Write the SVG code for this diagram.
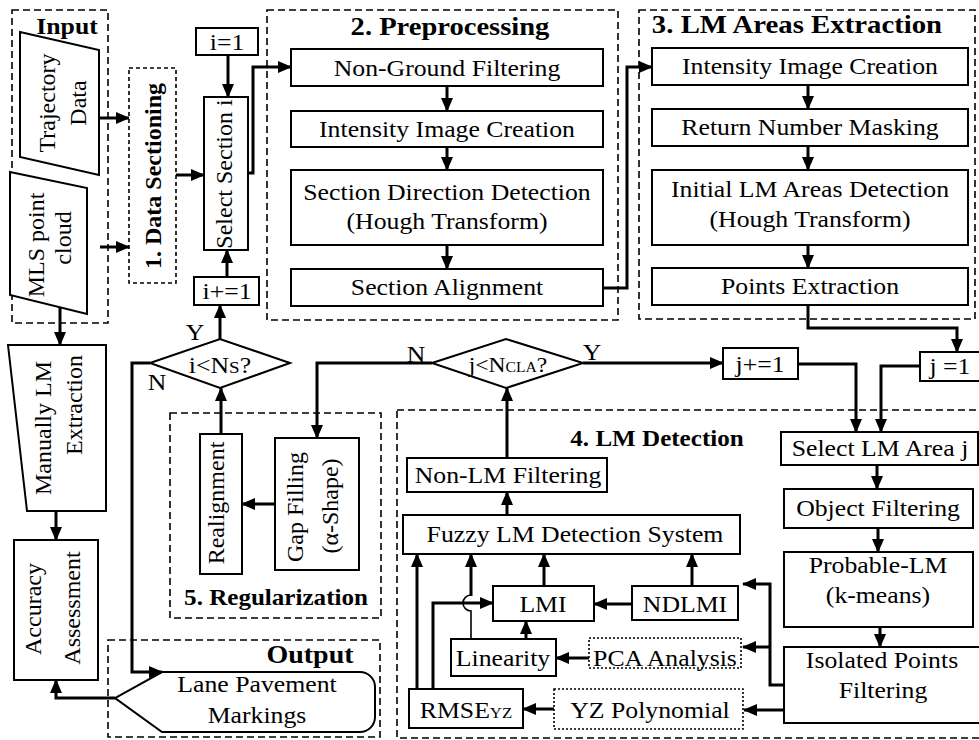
<svg xmlns="http://www.w3.org/2000/svg" width="979" height="740" viewBox="0 0 979 740">
<defs>
<marker id="a" markerWidth="14" markerHeight="12" refX="13" refY="6" orient="auto" markerUnits="userSpaceOnUse"><path d="M0,0 L14,6 L0,12 z" fill="#000"/></marker>
<style>
.b{fill:#fff;stroke:#000;stroke-width:2}
.dt{fill:#fff;stroke:#000;stroke-width:1.6;stroke-dasharray:2,2}
.d{fill:none;stroke:#000;stroke-width:1.6;stroke-dasharray:7,4}
.c{fill:none;stroke:#000;stroke-width:3;marker-end:url(#a)}
.l{fill:none;stroke:#000;stroke-width:3}
.t{font-family:"Liberation Serif","Times New Roman",serif;font-size:23px;text-anchor:middle;fill:#000}
.v{font-size:24px}
.h{font-weight:bold}
</style>
</defs>
<rect width="979" height="740" fill="#fff"/>
<g id="containers">
<rect class="d" x="12" y="10" width="96" height="313"/>
<rect class="d" x="267" y="10" width="351" height="310"/>
<rect class="d" x="639" y="10" width="336" height="309"/>
<rect class="d" x="397" y="410" width="600" height="328"/>
<rect class="d" x="170" y="413" width="211" height="205"/>
<rect class="d" x="108" y="640" width="272" height="97"/>
<text class="t h" font-size="24" transform="translate(67,34) scale(1.12,1)">Input</text>
<text class="t h" style="font-size:25.5px" transform="translate(450,35) scale(1.12,1)">2. Preprocessing</text>
<text class="t h" style="font-size:25.7px" transform="translate(797,33) scale(1.12,1)">3. LM Areas Extraction</text>
<text class="t h" style="font-size:22.4px" transform="translate(657,446) scale(1.12,1)">4. LM Detection</text>
<text class="t h" style="font-size:22.4px" transform="translate(276,605) scale(1.12,1)">5. Regularization</text>
<text class="t h" style="font-size:25px" transform="translate(310,663) scale(1.12,1)">Output</text>
</g>
<g id="connectors">
<path class="c" d="M99,118 H129"/>
<path class="c" d="M100,247 H129"/>
<path class="c" d="M176,175 H204"/>
<path class="c" d="M228,55 V97"/>
<path class="c" d="M248,173 H253 V67 H291"/>
<path class="c" d="M227,277 V250"/>
<path class="c" d="M220,339 V305"/>
<path class="c" d="M221,434 V388"/>
<path class="c" d="M150,363 H132 V672 H162"/>
<path class="c" d="M60,307 V345"/>
<path class="c" d="M56,511 V540"/>
<path class="c" d="M115,698 H56 V680"/>
<path class="c" d="M447,86 V111"/>
<path class="c" d="M447,147 V170"/>
<path class="c" d="M447,245 V269"/>
<path class="c" d="M603,288 H627 V67 H652"/>
<path class="c" d="M808,85 V109"/>
<path class="c" d="M808,146 V170"/>
<path class="c" d="M808,245 V268"/>
<path class="c" d="M808,305 V328 H957 V352"/>
<path class="c" d="M920,366 H881 V432"/>
<path class="c" d="M798,364 H856 V432"/>
<path class="c" d="M583,363 H723"/>
<path class="c" d="M432,363 H317 V438"/>
<path class="c" d="M275,504 H242"/>
<path class="c" d="M507,458 V388"/>
<path class="c" d="M507,515 V492"/>
<path class="c" d="M877,465 V489"/>
<path class="c" d="M878,528 V552"/>
<path class="c" d="M880,627 V647"/>
<path class="c" d="M784,685 H770 V584 H743"/>
<path class="c" d="M770,647 H743"/>
<path class="c" d="M784,710 H744"/>
<path class="c" d="M554,709 H523"/>
<path class="c" d="M589,658 H556"/>
<path class="c" d="M632,604 H594"/>
<path class="c" d="M544,586 V554"/>
<path class="c" d="M692,586 V554"/>
<path class="c" d="M526,639 V621"/>
<path class="c" d="M417,689 V554"/>
<path class="c" d="M433,689 V603 H493"/>
<path fill="none" stroke="#000" stroke-width="1.6" d="M471,639 V611 A8,8 0 0 1 471,595"/>
<path class="c" d="M471,596 V554"/>
<text class="t" transform="translate(195,340) scale(1.12,1)">Y</text>
<text class="t" transform="translate(157,390) scale(1.12,1)">N</text>
<text class="t" transform="translate(416,362) scale(1.12,1)">N</text>
<text class="t" transform="translate(592,360) scale(1.12,1)">Y</text>
</g>
<g id="trajectory">
<polygon class="b" points="20,32 99,50 99,175 20,157"/>
<text class="t v" transform="translate(55,103) rotate(-90)">Trajectory</text>
<text class="t v" transform="translate(86,103) rotate(-90)">Data</text>
</g>
<g id="mls">
<polygon class="b" points="10,172 87,188 87,314 10,295"/>
<text class="t v" transform="translate(44,245) rotate(-90)">MLS point</text>
<text class="t v" transform="translate(71,238) rotate(-90)">cloud</text>
</g>
<g id="datasectioning">
<rect x="129" y="68" width="47" height="215" fill="#fff" stroke="#000" stroke-width="1.6" stroke-dasharray="4,3"/>
<text class="t v h" transform="translate(161,176) rotate(-90)">1. Data Sectioning</text>
</g>
<g id="i1"><rect class="b" x="196" y="28" width="62" height="27"/><text class="t" transform="translate(227,50) scale(1.12,1)">i=1</text></g>
<g id="selectsection"><rect class="b" x="204" y="97" width="44" height="153"/><text class="t v" transform="translate(232,174) rotate(-90)">Select Section i</text></g>
<g id="iinc"><rect class="b" x="194" y="277" width="65" height="28"/><text class="t" transform="translate(227,299) scale(1.12,1)">i+=1</text></g>
<g id="idiamond"><polygon class="b" points="150,363 220,339 290,363 220,388"/><text class="t" transform="translate(220,373) scale(1.12,1)">i&lt;N<tspan font-size="17">S</tspan>?</text></g>
<g id="nonground"><rect class="b" x="291" y="49" width="312" height="37"/><text class="t" transform="translate(447,76) scale(1.12,1)">Non-Ground Filtering</text></g>
<g id="intensity1"><rect class="b" x="291" y="111" width="312" height="36"/><text class="t" transform="translate(447,137) scale(1.12,1)">Intensity Image Creation</text></g>
<g id="secdir"><rect class="b" x="291" y="170" width="312" height="75"/><text class="t" transform="translate(447,200) scale(1.12,1)">Section Direction Detection</text><text class="t" transform="translate(447,229) scale(1.12,1)">(Hough Transform)</text></g>
<g id="secalign"><rect class="b" x="291" y="269" width="312" height="37"/><text class="t" transform="translate(447,295) scale(1.12,1)">Section Alignment</text></g>
<g id="intensity2"><rect class="b" x="652" y="48" width="316" height="37"/><text class="t" transform="translate(810,74) scale(1.12,1)">Intensity Image Creation</text></g>
<g id="returnnum"><rect class="b" x="652" y="109" width="316" height="37"/><text class="t" transform="translate(810,135) scale(1.12,1)">Return Number Masking</text></g>
<g id="initlm"><rect class="b" x="652" y="170" width="316" height="75"/><text class="t" transform="translate(810,197) scale(1.12,1)">Initial LM Areas Detection</text><text class="t" transform="translate(810,227) scale(1.12,1)">(Hough Transform)</text></g>
<g id="pointsext"><rect class="b" x="652" y="268" width="316" height="37"/><text class="t" transform="translate(810,294) scale(1.12,1)">Points Extraction</text></g>
<g id="jdiamond"><polygon class="b" points="432,363 506,339 583,363 506,388"/><text class="t" style="font-size:21px" transform="translate(508,372) scale(1.12,1)">j&lt;N<tspan font-size="14">CLA</tspan>?</text></g>
<g id="jinc"><rect class="b" x="723" y="348" width="75" height="31"/><text class="t" transform="translate(760,372) scale(1.12,1)">j+=1</text></g>
<g id="j1"><rect class="b" x="920" y="352" width="65" height="29"/><text class="t" transform="translate(950,374) scale(1.12,1)">j =1</text></g>
<g id="selectlm"><rect class="b" x="781" y="432" width="197" height="33"/><text class="t" transform="translate(880,456) scale(1.12,1)">Select LM Area j</text></g>
<g id="objfilt"><rect class="b" x="784" y="489" width="189" height="39"/><text class="t" transform="translate(878,516) scale(1.12,1)">Object Filtering</text></g>
<g id="probable"><rect class="b" x="784" y="552" width="189" height="75"/><text class="t" transform="translate(878,573) scale(1.12,1)">Probable-LM</text><text class="t" transform="translate(878,603) scale(1.12,1)">(k-means)</text></g>
<g id="isolated"><rect class="b" x="784" y="647" width="200" height="76"/><text class="t" transform="translate(882,668) scale(1.12,1)">Isolated Points</text><text class="t" transform="translate(883,698) scale(1.12,1)">Filtering</text></g>
<g id="nonlm"><rect class="b" x="407" y="458" width="200" height="34"/><text class="t" transform="translate(508,483) scale(1.12,1)">Non-LM Filtering</text></g>
<g id="fuzzy"><rect class="b" x="403" y="515" width="337" height="39"/><text class="t" transform="translate(575,542) scale(1.12,1)">Fuzzy LM Detection System</text></g>
<g id="lmi"><rect class="b" x="493" y="586" width="101" height="35"/><text class="t" transform="translate(543,612) scale(1.12,1)">LMI</text></g>
<g id="ndlmi"><rect class="b" x="632" y="586" width="106" height="34"/><text class="t" transform="translate(685,612) scale(1.12,1)">NDLMI</text></g>
<g id="linearity"><rect class="b" x="451" y="639" width="105" height="37"/><text class="t" transform="translate(503,666) scale(1.12,1)">Linearity</text></g>
<g id="pca"><rect class="dt" x="589" y="638" width="152" height="30"/><text class="t" transform="translate(665,666) scale(1.12,1)">PCA Analysis</text></g>
<g id="rmse"><rect class="b" x="409" y="689" width="114" height="39"/><text class="t" transform="translate(466,718) scale(1.12,1)">RMSE<tspan font-size="15">YZ</tspan></text></g>
<g id="yzpoly"><rect class="dt" x="554" y="689" width="189" height="40"/><text class="t" transform="translate(650,718) scale(1.12,1)">YZ Polynomial</text></g>
<g id="realign"><rect class="b" x="200" y="434" width="42" height="140"/><text class="t v" transform="translate(224,503) rotate(-90)">Realignment</text></g>
<g id="gapfill"><rect class="b" x="275" y="438" width="84" height="132"/><text class="t v" transform="translate(303,507) rotate(-90)">Gap Filling</text><text class="t v" transform="translate(338,506) rotate(-90)">(α-Shape)</text></g>
<g id="manual"><polygon class="b" points="8,345 106,345 106,511 27,511"/><text class="t v" transform="translate(51,428) rotate(-90)">Manually LM</text><text class="t v" transform="translate(82,405) rotate(-90)">Extraction</text></g>
<g id="accuracy"><rect class="b" x="14" y="540" width="84" height="140"/><text class="t v" transform="translate(41,609) rotate(-90)">Accuracy</text><text class="t v" transform="translate(80,608) rotate(-90)">Assessment</text></g>
<g id="lane"><path class="b" d="M162,672 H360 A15,15 0 0 1 375,687 V717 A15,15 0 0 1 360,732 H162 L115,698 Z"/><text class="t" transform="translate(257,692) scale(1.12,1)">Lane Pavement</text><text class="t" transform="translate(257,723) scale(1.12,1)">Markings</text></g>
</svg>
